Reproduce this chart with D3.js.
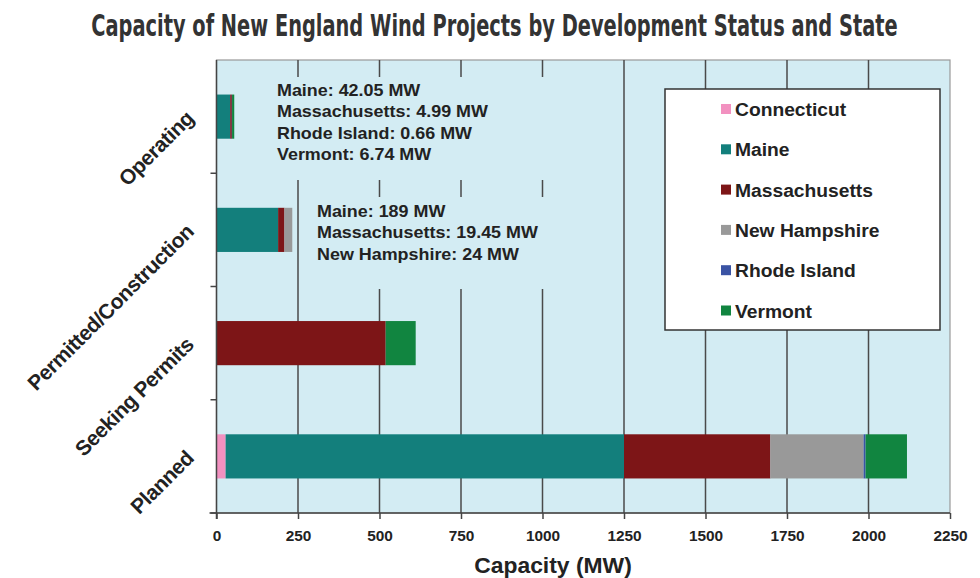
<!DOCTYPE html>
<html>
<head>
<meta charset="utf-8">
<script src="https://cdn.jsdelivr.net/npm/d3@7"></script>
<style>
  body { margin: 0; background: #ffffff; }
  svg { display: block; }
  text { font-family: "Liberation Sans", Arial, sans-serif; font-weight: bold; fill: #222; }
</style>
</head>
<body>
<div id="chart"></div>
<script>
// categories (top to bottom)
const statuses = ["Operating", "Permitted/Construction", "Seeking Permits", "Planned"];
const states = ["Connecticut", "Maine", "Massachusetts", "New Hampshire", "Rhode Island", "Vermont"];

// MW by status, one array per state
const connecticut   = [0,     0,     0,   28];
const maine         = [42.05, 189,   0,   1222];
const massachusetts = [4.99,  19.45, 519, 449];
const newHampshire  = [0,     24,    0,   286];
const rhodeIsland   = [0.66,  0,     0,   6];
const vermont       = [6.74,  0,     92,  127];

const xTicks = [0, 250, 500, 750, 1000, 1250, 1500, 1750, 2000, 2250];

const operatingNote = ["Maine: 42.05 MW", "Massachusetts: 4.99 MW", "Rhode Island: 0.66 MW", "Vermont: 6.74 MW"];
const permittedNote = ["Maine: 189 MW", "Massachusetts: 19.45 MW", "New Hampshire: 24 MW"];

const stateColors = ["#f291c0", "#137f7c", "#7d1517", "#999999", "#3a53a4", "#118540"];

const width = 980, height = 578;
const margin = ({ top: 60, right: 30, bottom: 65, left: 216.5 });
const plotBg = "#d3ecf3";

const seriesValues = [connecticut, maine, massachusetts, newHampshire, rhodeIsland, vermont];
const table = statuses.map((s, i) => {
    const row = { status: s };
    states.forEach((st, j) => row[st] = seriesValues[j][i]);
    return row;
});
const stacked = d3.stack().keys(states)(table);

const x = d3.scaleLinear()
    .domain([0, 2250])
    .range([margin.left, width - margin.right]);

const y = d3.scaleBand()
    .domain(statuses)
    .range([margin.top, height - margin.bottom])
    .padding(0);

const color = d3.scaleOrdinal().domain(states).range(stateColors);

const svg = d3.select("#chart")
    .append("svg")
    .attr("width", width)
    .attr("height", height);

// title, squeezed to the width of the original
const title = svg.append("text")
    .attr("text-anchor", "middle")
    .style("font-family", "'Liberation Sans Narrow', 'DejaVu Sans Condensed', sans-serif")
    .style("font-size", "30px")
    .style("fill", "#333")
    .text("Capacity of New England Wind Projects by Development Status and State");
const titleW = title.node().getComputedTextLength();
title.attr("transform", `translate(494.5,36) scale(${807 / titleW},1)`);

// plot background
svg.append("rect")
    .attr("x", x(0))
    .attr("y", margin.top)
    .attr("width", x(2250) - x(0))
    .attr("height", y.range()[1] - margin.top)
    .attr("fill", plotBg)
    .attr("stroke", "#999")
    .attr("stroke-width", 1.2);

// vertical gridlines
svg.append("g")
    .selectAll("line")
    .data(xTicks.filter(d => d > 0 && d < 2250))
    .join("line")
        .attr("x1", d => x(d))
        .attr("x2", d => x(d))
        .attr("y1", margin.top)
        .attr("y2", y.range()[1])
        .attr("stroke", "#4a4a4a")
        .attr("stroke-width", 1.5);

// text boxes for annotations hide the gridlines behind them
svg.append("rect")
    .attr("x", 268).attr("y", 77).attr("width", 330).attr("height", 103)
    .attr("fill", plotBg);
svg.append("rect")
    .attr("x", 308).attr("y", 197).attr("width", 290).attr("height", 92)
    .attr("fill", plotBg);

// bars
const barH = y.bandwidth() * 0.39;
svg.append("g")
    .selectAll("g")
    .data(stacked)
    .join("g")
        .attr("fill", d => color(d.key))
    .selectAll("rect")
    .data(d => d.filter(p => p[1] - p[0] > 0))
    .join("rect")
        .attr("x", d => x(d[0]))
        .attr("y", d => y(d.data.status) + (y.bandwidth() - barH) / 2)
        .attr("width", d => x(d[1]) - x(d[0]))
        .attr("height", barH);

// x axis
const xAxis = svg.append("g")
    .attr("transform", `translate(0,${y.range()[1]})`)
    .call(d3.axisBottom(x).tickValues(xTicks).tickSize(6).tickPadding(12).tickFormat(d3.format("d")));
xAxis.select(".domain").attr("stroke", "#444").attr("stroke-width", 1.5).attr("d", `M${x(0) - 7},0H${x(2250)}`);
xAxis.selectAll(".tick line").attr("stroke", "#444").attr("stroke-width", 1.5);
xAxis.selectAll(".tick text")
    .style("font-size", "14px")
    .style("font-family", "'Liberation Sans', Arial, sans-serif")
    .style("font-weight", "bold")
    .attr("fill", "#222")
    .attr("transform", "scale(1.1,1)");

svg.append("text")
    .attr("transform", "translate(553,573) scale(1.04,1)")
    .attr("text-anchor", "middle")
    .style("font-size", "22px")
    .text("Capacity (MW)");

// y axis
const yTicks = statuses.map(s => y(s) + y.bandwidth());
svg.append("line")
    .attr("x1", x(0)).attr("x2", x(0))
    .attr("y1", margin.top).attr("y2", y.range()[1] + 6)
    .attr("stroke", "#444").attr("stroke-width", 1.5);
svg.append("g")
    .selectAll("line")
    .data(yTicks)
    .join("line")
        .attr("x1", x(0) - 6).attr("x2", x(0))
        .attr("y1", d => d).attr("y2", d => d)
        .attr("stroke", "#444").attr("stroke-width", 1.5);

svg.append("g")
    .selectAll("text")
    .data(statuses)
    .join("text")
        .attr("transform", d => `translate(195,${y(d) + y.bandwidth() / 2 + 3}) rotate(-45)`)
        .attr("text-anchor", "end")
        .style("font-size", "21px")
        .style("letter-spacing", "-0.4px")
        .text(d => d);

// annotations
const note = (lines, x0, y0) => svg.append("g")
    .selectAll("text")
    .data(lines)
    .join("text")
        .attr("transform", (d, i) => `translate(${x0},${y0 + i * 21.3}) scale(1.12,1)`)
        .style("font-size", "16px")
        .text(d => d);
note(operatingNote, 277, 96);
note(permittedNote, 317, 217);

// legend
const legend = svg.append("g").attr("transform", "translate(665,89)");
legend.append("rect")
    .attr("width", 275).attr("height", 241)
    .attr("fill", "#ffffff")
    .attr("stroke", "#333").attr("stroke-width", 1.5);
const item = legend.selectAll("g.item")
    .data(states)
    .join("g")
        .attr("class", "item")
        .attr("transform", (d, i) => `translate(56,${27 + i * 40.3})`);
item.append("rect")
    .attr("x", 0).attr("y", -12)
    .attr("width", 10).attr("height", 10)
    .attr("fill", d => color(d));
item.append("text")
    .attr("transform", "translate(14,0) scale(1.07,1)")
    .style("font-size", "18px")
    .text(d => d);
</script>
</body>
</html>
